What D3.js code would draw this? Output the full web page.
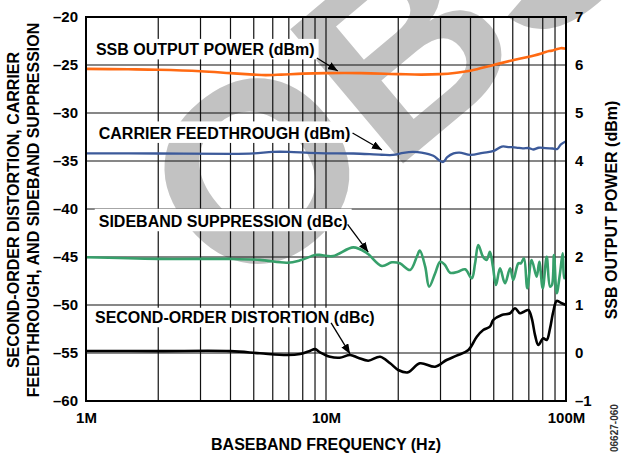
<!DOCTYPE html>
<html>
<head>
<meta charset="utf-8">
<script src="https://cdn.jsdelivr.net/npm/d3@7"></script>
<style>
    body { margin: 0; background: #fff; }
    text { font-family: "Liberation Sans", Arial, sans-serif; font-weight: bold; }
</style>
</head>
<body>
<svg id="chart" width="626" height="455"></svg>
<script>
// frequency in MHz
const ssbPower = [ // dBm, right axis
    [1, 5.92], [1.5, 5.91], [2, 5.90], [3, 5.87], [4, 5.83], [5, 5.80], [5.6, 5.79], [6.5, 5.80],
    [8, 5.82], [10, 5.83], [14, 5.83], [20, 5.81], [25, 5.80], [30, 5.81], [35, 5.84], [40, 5.88],
    [50, 6.00], [60, 6.10], [70, 6.17], [80, 6.25], [85, 6.29], [88, 6.30], [90, 6.32], [95, 6.35], [100, 6.34]
];
const carrierFeed = [ // dBm
    [1, -34.2], [2, -34.22], [4, -34.25], [5, -34.2], [6, -34.05], [7, -34.05], [8.5, -34.15], [10, -34.2],
    [13, -34.22], [17, -34.35], [19, -34.37], [21, -34.15], [23, -34.05], [25, -34.12], [28, -34.45],
    [29.5, -34.9], [30.8, -35.1], [32, -34.6], [34, -34.2], [36, -34.12], [40, -34.37], [45, -34.15],
    [50, -33.95], [54, -33.5], [58, -33.55], [62, -33.6], [66, -33.68], [70, -33.65], [73, -33.8],
    [77, -33.62], [82, -33.65], [88, -33.7], [92, -33.75], [95, -33.3], [100, -32.95]
];
const sidebandSupp = [ // dBc
    [1, -45.03], [2, -45.2], [4, -45.2], [5.3, -45.3], [6.9, -45.6], [7.8, -45.35], [9.0, -44.8],
    [9.4, -44.78], [10.7, -44.9], [13.0, -44.0], [14.8, -44.6], [17.1, -45.94], [18.8, -45.55],
    [20.3, -45.66], [22.4, -46.35], [23.9, -44.97], [24.6, -44.34], [25.9, -46.0], [26.9, -48.09],
    [28.5, -46.7], [29.9, -45.49], [31.3, -45.83], [32.9, -46.64], [35.5, -46.53], [38.0, -46.28],
    [40.5, -47.22], [41.8, -45.66], [43.1, -43.75], [45.1, -44.97], [46.7, -45.31], [48.2, -44.45],
    [49.6, -46.0], [51.1, -47.92], [53.1, -46.18], [55.7, -47.74], [58.5, -46.18], [60.3, -47.4],
    [63.3, -45.66], [64.9, -45.66], [66.8, -45.14], [69.0, -48.26], [71.9, -45.31], [75.5, -47.05],
    [77.4, -45.49], [80.0, -48.26], [83.1, -44.97], [85.8, -48.09], [87.4, -47.92], [89.1, -44.79],
    [91.5, -48.78], [94.4, -46.7], [96.9, -44.61], [98.4, -47.22], [100, -47.0]
];
const secondOrder = [ // dBc
    [1, -54.79], [2, -54.8], [4, -54.8], [5.3, -55.03], [6.9, -55.21], [7.8, -55.1], [8.6, -54.76],
    [9.0, -54.6], [9.44, -54.93], [10.4, -55.39], [11.4, -55.49], [12.6, -55.21], [13.6, -55.49],
    [15.0, -55.8], [16.8, -55.39], [18.5, -56.07], [20.0, -56.77], [22.0, -57.01], [24.6, -56.07],
    [28.5, -56.43], [31.8, -55.73], [35.0, -55.28], [39.2, -54.69], [42.5, -53.3], [45.2, -52.6],
    [48.2, -52.26], [49.8, -51.56], [54.0, -51.04], [58.5, -50.86], [61.3, -50.34], [64.3, -50.86],
    [66.8, -50.7], [69.7, -50.52], [72.0, -51.39], [74.3, -53.13], [76.7, -54.17], [80.4, -53.47],
    [83.1, -53.65], [85.8, -52.43], [88.5, -50.7], [91.5, -49.58], [96.0, -49.82], [100, -50.0]
];

const leftTicks = [-20, -25, -30, -35, -40, -45, -50, -55, -60];
const rightTicks = [7, 6, 5, 4, 3, 2, 1, 0, -1];
const freqTicks = [1, 10, 100];
const freqTickLabels = ["1M", "10M", "100M"];

// curve labels: [text, freq, dB]  and arrows: [fromFreq, fromDb, toFreq, toDb]
const curveLabels = [
    ["SSB OUTPUT POWER (dBm)", 1.10, -24.0],
    ["CARRIER FEEDTHROUGH (dBm)", 1.13, -32.7],
    ["SIDEBAND SUPPRESSION (dBc)", 1.13, -41.9],
    ["SECOND-ORDER DISTORTION (dBc)", 1.09, -51.9]
];
const labelPadTop = [5, 6, 7, 4];
const arrows = [
    [9.16, -24.27, 11.2, -25.63],
    [12.9, -32.08, 17.1, -33.85],
    [12.3, -41.6, 15.0, -44.5],
    [10.5, -51.87, 12.6, -55.1]
];

const margin = {top: 17, right: 60, bottom: 54, left: 86};
const width = 480, height = 384;

const svg = d3.select("#chart");

const fmt = d => (d < 0 ? "\u2013" : "") + Math.abs(d);

// watermark
svg.append("text")
    .attr("transform", "translate(238,302) rotate(-40)")
    .attr("font-size", 255)
    .attr("fill", "#c2c2c2")
    .text("OBSOLETE");

const g = svg.append("g").attr("transform", `translate(${margin.left},${margin.top})`);

const x = d3.scaleLog().domain([1, 100]).range([0, width]);
const yL = d3.scaleLinear().domain([-60, -20]).range([height, 0]);
const yR = d3.scaleLinear().domain([-1, 7]).range([height, 0]);

// grid
let minor = [];
[1, 10].forEach(dec => d3.range(1, 10).forEach(m => minor.push(dec * m)));
minor.push(100);

g.append("g").selectAll("line").data(minor).enter().append("line")
    .attr("x1", d => x(d)).attr("x2", d => x(d))
    .attr("y1", 0).attr("y2", height)
    .attr("stroke", "#111").attr("stroke-width", 1.2);

g.append("g").selectAll("line").data(leftTicks).enter().append("line")
    .attr("x1", 0).attr("x2", width)
    .attr("y1", d => yL(d)).attr("y2", d => yL(d))
    .attr("stroke", "#111").attr("stroke-width", 1.2);

// labels with white boxes that break the grid
const labelG = g.append("g");
curveLabels.forEach((l, i) => {
    const box = labelG.append("rect").attr("fill", "#fff");
    const t = labelG.append("text")
        .attr("x", x(l[1]))
        .attr("y", yL(l[2]))
        .attr("font-size", 16)
        .attr("font-weight", "bold")
        .attr("fill", "#000")
        .text(l[0]);
    const bb = t.node().getBBox();
    const capTop = yL(l[2]) - 11.5;
    box.attr("x", bb.x - 4).attr("width", bb.width + 8)
        .attr("y", capTop - labelPadTop[i])
        .attr("height", yL(l[2]) + 4 - (capTop - labelPadTop[i]));
});

// arrows
g.append("defs").append("marker")
    .attr("id", "head")
    .attr("viewBox", "0 0 10 8")
    .attr("refX", 10).attr("refY", 4)
    .attr("markerWidth", 10).attr("markerHeight", 8)
    .attr("markerUnits", "userSpaceOnUse")
    .attr("orient", "auto")
    .append("path").attr("d", "M0,0 L10,4 L0,8 Z").attr("fill", "#000");

g.append("g").selectAll("line").data(arrows).enter().append("line")
    .attr("x1", d => x(d[0])).attr("y1", d => yL(d[1]))
    .attr("x2", d => x(d[2])).attr("y2", d => yL(d[3]))
    .attr("stroke", "#000").attr("stroke-width", 1.3)
    .attr("marker-end", "url(#head)");

// curves
const lineL = d3.line().x(d => x(d[0])).y(d => yL(d[1])).curve(d3.curveCatmullRom.alpha(0.5));
const lineR = d3.line().x(d => x(d[0])).y(d => yR(d[1])).curve(d3.curveCatmullRom.alpha(0.5));

g.append("path").attr("d", lineR(ssbPower))
    .attr("fill", "none").attr("stroke", "#ff6a13").attr("stroke-width", 2.6);
g.append("path").attr("d", lineL(carrierFeed))
    .attr("fill", "none").attr("stroke", "#3c5a9a").attr("stroke-width", 2.3);
g.append("path").attr("d", lineL(sidebandSupp))
    .attr("fill", "none").attr("stroke", "#37a06b").attr("stroke-width", 2.6);
g.append("path").attr("d", lineL(secondOrder))
    .attr("fill", "none").attr("stroke", "#000").attr("stroke-width", 2.6);

// frame
g.append("rect").attr("width", width).attr("height", height)
    .attr("fill", "none").attr("stroke", "#000").attr("stroke-width", 2);

// axes
const axL = g.append("g")
    .call(d3.axisLeft(yL).tickValues(leftTicks).tickSize(0).tickPadding(8).tickFormat(fmt));
const axR = g.append("g").attr("transform", `translate(${width},0)`)
    .call(d3.axisRight(yR).tickValues(rightTicks).tickSize(0).tickPadding(9).tickFormat(fmt));
const axB = g.append("g").attr("transform", `translate(0,${height})`)
    .call(d3.axisBottom(x).tickValues(freqTicks).tickSize(0).tickPadding(11)
        .tickFormat((d, i) => freqTickLabels[i]));

[axL, axR, axB].forEach(a => {
    a.select(".domain").remove();
    a.selectAll("text").attr("font-size", 15).attr("fill", "#000")
        .attr("font-weight", "bold")
        .attr("font-family", "'Liberation Sans', Arial, sans-serif");
});

// axis titles
svg.append("text")
    .attr("transform", "translate(18.5,210) rotate(-90)")
    .attr("text-anchor", "middle").attr("font-size", 16)
    .text("SECOND-ORDER DISTORTION, CARRIER");
svg.append("text")
    .attr("transform", "translate(39,210) rotate(-90)")
    .attr("text-anchor", "middle").attr("font-size", 16)
    .text("FEEDTHROUGH, AND SIDEBAND SUPPRESSION");
svg.append("text")
    .attr("transform", "translate(617,210) rotate(-90)")
    .attr("text-anchor", "middle").attr("font-size", 16)
    .text("SSB OUTPUT POWER (dBm)");
svg.append("text")
    .attr("x", margin.left + x(10)).attr("y", 450)
    .attr("text-anchor", "middle").attr("font-size", 16)
    .text("BASEBAND FREQUENCY (Hz)");

svg.append("text")
    .attr("transform", "translate(618,452) rotate(-90)")
    .attr("font-size", 10).attr("font-weight", "normal").attr("fill", "#333")
    .text("06627-060");
</script>
</body>
</html>
